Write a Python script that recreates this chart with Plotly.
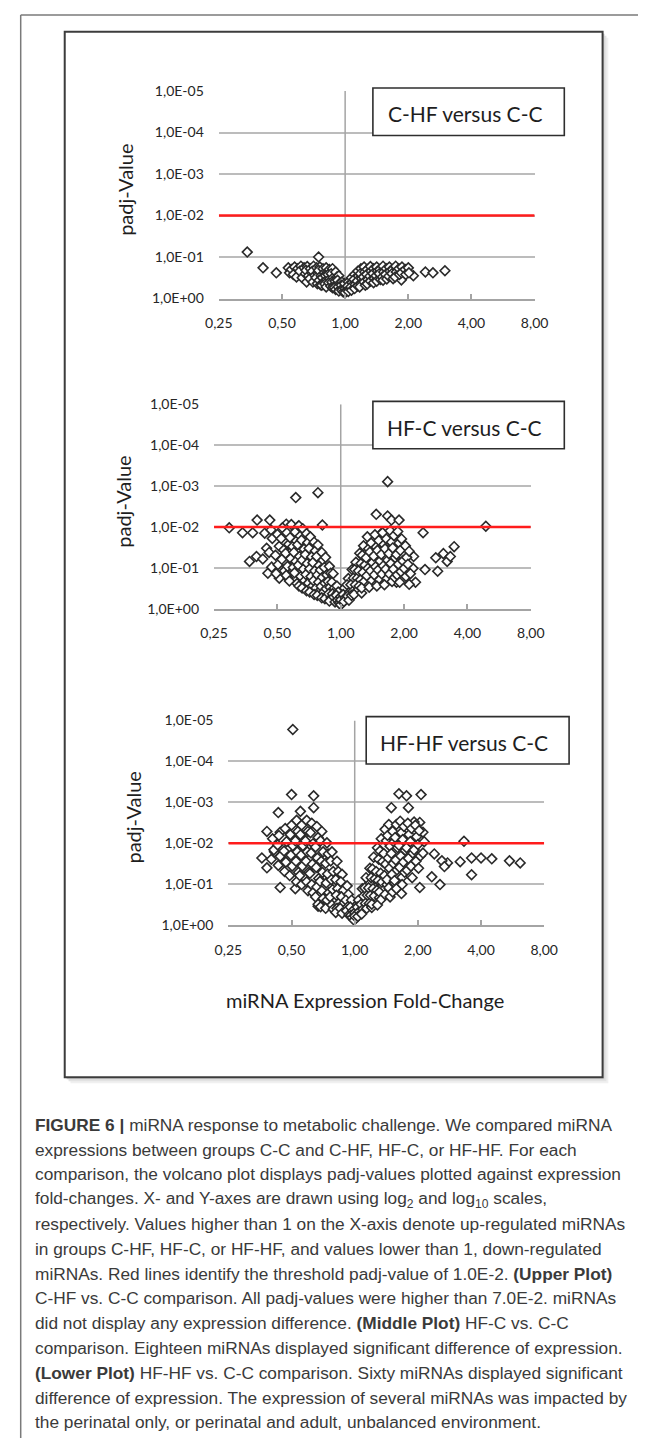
import math
import plotly.graph_objects as go

# ---------------- data ----------------
# x: log2 of expression fold-change, y: -log10 of padj-value
# Upper plot: C-HF versus C-C
chf_log2fc = [
    -1.55, -0.42, -1.30, -1.09, 1.27, 1.39, 1.58, 1.08, 0.89,
    -0.90, -0.88, -0.85, -0.80, -0.82, -0.75, -0.77,
    -0.70, -0.72, -0.68, -0.65, -0.63,
    -0.60, -0.62, -0.58, -0.61, -0.55, -0.53, -0.56,
    -0.50, -0.52, -0.48, -0.51, -0.45, -0.43, -0.46, -0.44,
    -0.40, -0.42, -0.38, -0.41, -0.39, -0.35, -0.33, -0.36, -0.34, -0.37,
    -0.30, -0.28, -0.31, -0.29, -0.32, -0.30, -0.25, -0.27, -0.24, -0.26, -0.23,
    -0.20, -0.22, -0.19, -0.21, -0.18, -0.20, -0.15, -0.13, -0.16, -0.14, -0.17, -0.15,
    -0.10, -0.12, -0.09, -0.11, -0.08, -0.10, -0.05, -0.06, -0.04, -0.05, -0.03,
    0.00, 0.01, 0.00, -0.01,
    0.05, 0.04, 0.06, 0.05, 0.10, 0.11, 0.09, 0.10,
    0.15, 0.14, 0.16, 0.15, 0.20, 0.21, 0.19, 0.20,
    0.25, 0.24, 0.26, 0.25, 0.23, 0.30, 0.31, 0.29, 0.30, 0.32,
    0.35, 0.34, 0.36, 0.35, 0.40, 0.41, 0.39, 0.40,
    0.45, 0.44, 0.46, 0.45, 0.50, 0.51, 0.49, 0.50,
    0.55, 0.54, 0.56, 0.60, 0.61, 0.59, 0.60,
    0.65, 0.64, 0.66, 0.70, 0.71, 0.69, 0.75, 0.74, 0.76,
    0.80, 0.81, 0.79, 0.85, 0.86, 0.90, 0.89, 0.95, 0.96, 1.00, 1.01,
]
chf_mlog10p = [
    1.12, 1.00, 0.74, 0.62, 0.64, 0.62, 0.67, 0.55, 0.45,
    0.74, 0.62, 0.70, 0.76, 0.58, 0.72, 0.52,
    0.78, 0.66, 0.50, 0.74, 0.60,
    0.77, 0.68, 0.55, 0.40, 0.72, 0.62, 0.48,
    0.78, 0.66, 0.56, 0.40, 0.74, 0.60, 0.50, 0.36,
    0.76, 0.68, 0.55, 0.44, 0.33, 0.72, 0.62, 0.50, 0.40, 0.32,
    0.74, 0.64, 0.55, 0.45, 0.35, 0.28, 0.70, 0.58, 0.48, 0.38, 0.30,
    0.72, 0.60, 0.50, 0.40, 0.32, 0.26, 0.64, 0.52, 0.42, 0.34, 0.26, 0.22,
    0.55, 0.44, 0.36, 0.28, 0.22, 0.18, 0.40, 0.32, 0.25, 0.20, 0.16,
    0.24, 0.18, 0.14, 0.36,
    0.40, 0.30, 0.22, 0.17, 0.50, 0.38, 0.28, 0.20,
    0.58, 0.46, 0.34, 0.24, 0.66, 0.54, 0.42, 0.30,
    0.72, 0.60, 0.48, 0.36, 0.28, 0.76, 0.64, 0.52, 0.40, 0.32,
    0.70, 0.58, 0.46, 0.35, 0.77, 0.66, 0.54, 0.42,
    0.72, 0.60, 0.48, 0.38, 0.76, 0.66, 0.55, 0.42,
    0.70, 0.60, 0.46, 0.78, 0.64, 0.52, 0.44,
    0.72, 0.58, 0.47, 0.76, 0.66, 0.54, 0.70, 0.60, 0.48,
    0.78, 0.64, 0.52, 0.72, 0.58, 0.76, 0.62, 0.70, 0.58, 0.74, 0.62,
]

# Middle plot: HF-C versus C-C
hfc_log2fc = [
    0.74, -0.71, -0.36, 0.56, 0.74, 0.80, 0.92, 2.29, -1.76, -1.55, -1.39, -1.32,
    -1.12, -0.86, -0.67, -0.29, 1.30, 0.65, -1.44, -1.33, -1.15, -0.97, -0.83, -0.52,
    1.15, 1.14, 1.18, 1.08, 0.88, 1.33, 1.53, 1.50, 1.62, 1.68, 1.73, 1.79,
    -1.20, -1.17, -1.23,
    -1.10, -1.08, -1.13, -1.09,
    -1.00, -0.97, -1.03, -0.99, -1.02,
    -0.92, -0.94, -0.90, -0.93, -0.89,
    -0.85, -0.82, -0.87, -0.84, -0.86,
    -0.78, -0.80, -0.76, -0.79, -0.75, -0.81,
    -0.72, -0.70, -0.74, -0.71, -0.73, -0.69,
    -0.66, -0.64, -0.68, -0.65, -0.67, -0.63, -0.66,
    -0.60, -0.62, -0.58, -0.61, -0.59, -0.57, -0.61,
    -0.54, -0.52, -0.56, -0.53, -0.55, -0.51, -0.54,
    -0.48, -0.50, -0.46, -0.49, -0.47, -0.45, -0.49,
    -0.42, -0.40, -0.44, -0.41, -0.43, -0.39, -0.42,
    -0.36, -0.38, -0.34, -0.37, -0.35, -0.33, -0.37,
    -0.30, -0.28, -0.32, -0.29, -0.31, -0.27, -0.30,
    -0.24, -0.26, -0.22, -0.25, -0.23, -0.21, -0.25,
    -0.18, -0.16, -0.20, -0.17, -0.19, -0.15, -0.18,
    -0.12, -0.14, -0.10, -0.13, -0.11, -0.09,
    -0.06, -0.04, -0.07, -0.05, -0.03,
    0.00, -0.01, 0.01, 0.00, 0.00,
    0.06, 0.04, 0.07, 0.05,
    0.12, 0.10, 0.14, 0.11, 0.13,
    0.18, 0.20, 0.16, 0.19, 0.17,
    0.24, 0.22, 0.26, 0.23, 0.25, 0.21,
    0.30, 0.32, 0.28, 0.31, 0.29, 0.33,
    0.36, 0.34, 0.38, 0.35, 0.37, 0.33,
    0.42, 0.44, 0.40, 0.43, 0.41, 0.45,
    0.48, 0.46, 0.50, 0.47, 0.49, 0.45,
    0.54, 0.56, 0.52, 0.55, 0.53, 0.57,
    0.60, 0.58, 0.62, 0.59, 0.61, 0.57,
    0.66, 0.68, 0.64, 0.67, 0.65, 0.69,
    0.72, 0.70, 0.74, 0.71, 0.73, 0.69,
    0.78, 0.80, 0.76, 0.79, 0.77, 0.81,
    0.84, 0.82, 0.86, 0.83, 0.85,
    0.90, 0.92, 0.88, 0.91, 0.89, 0.93,
    0.96, 0.94, 0.98, 0.95,
    1.02, 1.04, 1.00, 1.03,
    1.08, 1.06, 1.10,
]
hfc_mlog10p = [
    3.11, 2.72, 2.84, 2.31, 2.27, 2.17, 2.17, 2.02, 1.98, 1.86, 1.86, 2.17,
    2.17, 2.07, 2.02, 2.05, 1.86, 1.86, 1.16, 1.28, 0.87, 0.75, 0.75, 0.53,
    1.28, 0.99, 0.65, 0.60, 0.65, 0.96, 0.92, 1.25, 1.35, 1.16, 1.28, 1.52,
    1.85, 1.48, 1.22,
    1.93, 1.72, 1.38, 1.02,
    1.82, 1.53, 1.31, 1.08, 0.86,
    1.98, 1.72, 1.44, 1.21, 0.93,
    1.86, 1.58, 1.36, 1.04, 0.82,
    2.06, 1.74, 1.52, 1.23, 1.01, 0.68,
    1.88, 1.66, 1.38, 1.16, 0.88, 0.62,
    2.03, 1.78, 1.57, 1.28, 1.07, 0.79, 0.56,
    1.96, 1.68, 1.46, 1.19, 0.97, 0.69, 0.51,
    1.84, 1.62, 1.33, 1.11, 0.84, 0.63, 0.44,
    1.76, 1.48, 1.27, 0.98, 0.79, 0.55, 0.41,
    1.63, 1.42, 1.13, 0.93, 0.69, 0.51, 0.35,
    1.56, 1.28, 1.06, 0.83, 0.65, 0.44, 0.33,
    1.38, 1.19, 0.95, 0.77, 0.55, 0.41, 0.27,
    1.26, 1.01, 0.83, 0.63, 0.49, 0.33, 0.25,
    1.04, 0.87, 0.67, 0.53, 0.37, 0.27, 0.19,
    0.86, 0.65, 0.51, 0.37, 0.29, 0.17,
    0.56, 0.41, 0.33, 0.21, 0.15,
    0.30, 0.16, 0.12, 0.10, 0.22,
    0.51, 0.35, 0.27, 0.18,
    0.74, 0.59, 0.41, 0.31, 0.21,
    0.96, 0.75, 0.59, 0.43, 0.33,
    1.14, 0.96, 0.75, 0.59, 0.43, 0.35,
    1.36, 1.11, 0.93, 0.71, 0.56, 0.39,
    1.54, 1.31, 1.07, 0.89, 0.67, 0.51,
    1.76, 1.47, 1.25, 0.99, 0.81, 0.59,
    1.61, 1.39, 1.13, 0.93, 0.69, 0.53,
    1.81, 1.51, 1.29, 1.03, 0.83, 0.61,
    1.67, 1.43, 1.17, 0.95, 0.71, 0.56,
    1.86, 1.57, 1.33, 1.05, 0.85, 0.63,
    1.71, 1.47, 1.19, 0.97, 0.74, 0.59,
    1.91, 1.63, 1.35, 1.11, 0.85, 0.67,
    1.79, 1.49, 1.25, 0.97, 0.77,
    1.89, 1.61, 1.33, 1.09, 0.83, 0.65,
    1.71, 1.43, 1.17, 0.91,
    1.54, 1.26, 0.99, 0.79,
    1.41, 1.09, 0.86,
]

# Lower plot: HF-HF versus C-C
hfhf_log2fc = [
    -0.98, -1.00, -0.65, -0.65, -0.86, -1.21, -0.89, -1.39, -1.18, -1.47,
    -1.39, -1.27, -1.11, -1.18, -0.94, -0.58, 0.70, 0.82, 1.05, 0.58,
    0.85, 1.73, 1.67, 1.85, 2.00, 2.17, 2.45, 2.62, 1.85, 1.47,
    1.38, 1.35, 1.22, 1.03, 1.42, 0.74, 1.26, 1.08, 1.03, 0.94,
    -1.30, -1.28, -1.32,
    -1.20, -1.22, -1.18, -1.21,
    -1.10, -1.08, -1.12, -1.09, -1.11,
    -1.00, -1.02, -0.98, -1.01, -0.99, -1.03,
    -0.92, -0.90, -0.94, -0.91, -0.93, -0.89, -0.92,
    -0.84, -0.86, -0.82, -0.85, -0.83, -0.87, -0.84,
    -0.76, -0.74, -0.78, -0.75, -0.77, -0.73, -0.76, -0.74,
    -0.68, -0.70, -0.66, -0.69, -0.67, -0.71, -0.68, -0.66,
    -0.60, -0.58, -0.62, -0.59, -0.61, -0.57, -0.60, -0.62, -0.58,
    -0.52, -0.54, -0.50, -0.53, -0.51, -0.55, -0.52, -0.50, -0.54,
    -0.44, -0.42, -0.46, -0.43, -0.45, -0.41, -0.44, -0.46,
    -0.36, -0.38, -0.34, -0.37, -0.35, -0.39, -0.36, -0.34,
    -0.28, -0.26, -0.30, -0.27, -0.29, -0.25, -0.28, -0.30,
    -0.20, -0.22, -0.18, -0.21, -0.19, -0.23, -0.20,
    -0.12, -0.10, -0.14, -0.11, -0.13, -0.09,
    -0.05, -0.07, -0.03, -0.06, -0.04,
    0.00, 0.01, -0.01, 0.00,
    0.06, 0.04, 0.07, 0.05,
    0.12, 0.14, 0.10, 0.13, 0.11,
    0.18, 0.16, 0.20, 0.17, 0.19,
    0.24, 0.26, 0.22, 0.25, 0.23, 0.27,
    0.30, 0.28, 0.32, 0.29, 0.31, 0.27,
    0.36, 0.38, 0.34, 0.37, 0.35, 0.39, 0.36,
    0.42, 0.40, 0.44, 0.41, 0.43, 0.39, 0.42,
    0.48, 0.50, 0.46, 0.49, 0.47, 0.51, 0.48,
    0.54, 0.52, 0.56, 0.53, 0.55, 0.51, 0.54, 0.56,
    0.60, 0.62, 0.58, 0.61, 0.59, 0.63, 0.60,
    0.66, 0.64, 0.68, 0.65, 0.67, 0.63, 0.66,
    0.72, 0.74, 0.70, 0.73, 0.71, 0.75,
    0.78, 0.76, 0.80, 0.77, 0.79, 0.75,
    0.84, 0.86, 0.82, 0.85, 0.83,
    0.90, 0.88, 0.92, 0.89, 0.91,
    0.96, 0.98, 0.94, 0.97,
    1.02, 1.00, 1.04, 1.01,
    1.10, 1.08,
]
hfhf_mlog10p = [
    4.78, 3.19, 3.16, 2.87, 2.78, 2.75, 2.51, 2.29, 2.27, 1.64,
    1.40, 1.79, 1.55, 0.92, 0.89, 0.46, 3.21, 3.16, 3.19, 2.87,
    2.87, 2.05, 1.55, 1.64, 1.64, 1.62, 1.57, 1.52, 1.23, 1.52,
    1.57, 0.99, 1.18, 0.92, 1.43, 0.77, 1.74, 2.27, 2.51, 2.52,
    2.11, 1.84, 1.61,
    2.19, 1.96, 1.68, 1.46,
    2.36, 2.04, 1.81, 1.54, 1.31,
    2.44, 2.21, 1.94, 1.71, 1.44, 1.21,
    2.56, 2.29, 2.06, 1.79, 1.56, 1.29, 1.06,
    2.44, 2.21, 1.94, 1.71, 1.44, 1.21, 0.99,
    2.56, 2.29, 2.06, 1.79, 1.56, 1.29, 1.06, 0.84,
    2.49, 2.26, 1.99, 1.76, 1.49, 1.26, 0.99, 0.79,
    2.41, 2.14, 1.91, 1.64, 1.41, 1.14, 0.93, 0.69, 0.51,
    2.29, 2.06, 1.79, 1.56, 1.29, 1.07, 0.84, 0.65, 0.45,
    2.01, 1.74, 1.51, 1.25, 1.03, 0.79, 0.61, 0.41,
    1.79, 1.57, 1.31, 1.11, 0.87, 0.69, 0.49, 0.39,
    1.56, 1.31, 1.11, 0.89, 0.73, 0.54, 0.41, 0.31,
    1.24, 1.06, 0.85, 0.69, 0.51, 0.41, 0.29,
    0.96, 0.75, 0.61, 0.45, 0.35, 0.25,
    0.61, 0.44, 0.35, 0.24, 0.18,
    0.30, 0.16, 0.12, 0.22,
    0.61, 0.44, 0.33, 0.21,
    0.89, 0.71, 0.51, 0.39, 0.27,
    1.16, 0.91, 0.73, 0.53, 0.41,
    1.39, 1.16, 0.91, 0.73, 0.53, 0.43,
    1.66, 1.37, 1.13, 0.89, 0.71, 0.51,
    1.89, 1.61, 1.31, 1.09, 0.85, 0.67, 0.49,
    2.11, 1.81, 1.55, 1.27, 1.05, 0.81, 0.63,
    2.34, 2.06, 1.75, 1.49, 1.21, 0.99, 0.75,
    2.46, 2.19, 1.93, 1.64, 1.39, 1.11, 0.91, 0.69,
    2.29, 2.03, 1.75, 1.51, 1.24, 1.03, 0.81,
    2.46, 2.14, 1.89, 1.59, 1.35, 1.09, 0.89,
    2.54, 2.26, 1.95, 1.69, 1.41, 1.17,
    2.41, 2.09, 1.83, 1.54, 1.29, 0.99,
    2.49, 2.21, 1.89, 1.63, 1.34,
    2.36, 2.04, 1.76, 1.44, 1.16,
    2.44, 2.16, 1.84, 1.56,
    2.31, 1.97, 1.69, 1.39,
    2.04, 1.76,
]

panel_titles = ["C-HF versus C-C", "HF-C versus C-C", "HF-HF versus C-C"]
threshold_padj = 1.0e-2
x_tick_vals = [0.25, 0.5, 1, 2, 4, 8]
x_tick_text = ["0,25", "0,50", "1,00", "2,00", "4,00", "8,00"]
y_tick_vals = [1e-5, 1e-4, 1e-3, 1e-2, 1e-1, 1]
y_tick_text = ["1,0E-05", "1,0E-04", "1,0E-03", "1,0E-02", "1,0E-01", "1,0E+00"]
y_title = "padj-Value"
x_title = "miRNA Expression Fold-Change"

caption_lines = [
    "<b>FIGURE 6 |</b> miRNA response to metabolic challenge. We compared miRNA",
    "expressions between groups C-C and C-HF, HF-C, or HF-HF. For each",
    "comparison, the volcano plot displays padj-values plotted against expression",
    "fold-changes. X- and Y-axes are drawn using log<sub>2</sub> and log<sub>10</sub> scales,",
    "respectively. Values higher than 1 on the X-axis denote up-regulated miRNAs",
    "in groups C-HF, HF-C, or HF-HF, and values lower than 1, down-regulated",
    "miRNAs. Red lines identify the threshold padj-value of 1.0E-2. <b>(Upper Plot)</b>",
    "C-HF vs. C-C comparison. All padj-values were higher than 7.0E-2. miRNAs",
    "did not display any expression difference. <b>(Middle Plot)</b> HF-C vs. C-C",
    "comparison. Eighteen miRNAs displayed significant difference of expression.",
    "<b>(Lower Plot)</b> HF-HF vs. C-C comparison. Sixty miRNAs displayed significant",
    "difference of expression. The expression of several miRNAs was impacted by",
    "the perinatal only, or perinatal and adult, unbalanced environment.",
]

# ---------------- layout helpers (pixels -> paper) ----------------
W, H = 652, 1446


def px(x):
    return x / W


def py(y):
    return 1 - y / H


panels = [
    dict(x0=214, x1=544, y0=83, y1=293, box=(375, 80, 575, 128), ytl=116),
    dict(x0=209, x1=540, y0=400, y1=607, box=(375, 397, 575, 445), ytl=114),
    dict(x0=224, x1=554, y0=720, y1=927, box=(368, 716, 580, 764), ytl=124),
]
series = [
    (chf_log2fc, chf_mlog10p),
    (hfc_log2fc, hfc_mlog10p),
    (hfhf_log2fc, hfhf_mlog10p),
]

TICK_FONT = dict(family="Lato", size=14, color="#262626")
GRID = "#bcbcbc"
AXIS = "#a4a4a4"

fig = go.Figure()
shapes = []
annotations = []

# page frame and chart box with soft shadow
shapes.append(dict(type="line", xref="paper", yref="paper", x0=px(7), x1=px(7), y0=py(6), y1=0,
                   line=dict(color="#7a7a7a", width=1.5), layer="below"))
shapes.append(dict(type="line", xref="paper", yref="paper", x0=px(7), x1=1, y0=py(6), y1=py(6),
                   line=dict(color="#7a7a7a", width=1.5), layer="below"))
for off, col in [(6, "#f0f0f0"), (4, "#e2e2e2"), (2, "#cfcfcf")]:
    shapes.append(dict(type="rect", xref="paper", yref="paper", x0=px(53 + off), x1=px(615 + off),
                       y0=py(1081 + off), y1=py(23 + off), fillcolor=col, line=dict(width=0), layer="below"))
shapes.append(dict(type="rect", xref="paper", yref="paper", x0=px(53), x1=px(615),
                   y0=py(1081), y1=py(23), fillcolor="white", line=dict(color="#3c3c3c", width=2),
                   layer="below"))

for i, (p, (lfc, nlp)) in enumerate(zip(panels, series)):
    sfx = "" if i == 0 else str(i + 1)
    xa, ya = "x" + sfx, "y" + sfx
    fc = [2 ** v for v in lfc]
    padj = [10 ** (-v) for v in nlp]

    # vertical axis line at fold-change 1
    fig.add_trace(go.Scatter(x=[1, 1], y=[1, 1e-5], mode="lines", line=dict(color=AXIS, width=1.5),
                             xaxis=xa, yaxis=ya, hoverinfo="skip", showlegend=False))
    fig.add_trace(go.Scatter(x=fc, y=padj, mode="markers", xaxis=xa, yaxis=ya, showlegend=False,
                             cliponaxis=False,
                             marker=dict(symbol="diamond", size=7.5, color="white",
                                         line=dict(color="#2a2a2a", width=1.6))))
    fig.add_trace(go.Scatter(x=[0.25, 8], y=[threshold_padj, threshold_padj], mode="lines",
                             line=dict(color="#ff1c1c", width=2.6), xaxis=xa, yaxis=ya,
                             hoverinfo="skip", showlegend=False))

    fig.layout["xaxis" + sfx] = dict(
        domain=[px(p["x0"]), px(p["x1"])], anchor=ya, type="log",
        range=[math.log10(0.25), math.log10(8)],
        tickmode="array", tickvals=x_tick_vals, ticktext=x_tick_text,
        ticks="inside", ticklen=5, tickwidth=1.5, tickcolor=AXIS,
        showline=True, linecolor=AXIS, linewidth=1.5, showgrid=False, zeroline=False,
        tickfont=TICK_FONT, ticklabelstandoff=11, fixedrange=True,
    )
    fig.layout["yaxis" + sfx] = dict(
        domain=[py(p["y1"]), py(p["y0"])], anchor=xa, type="log", range=[0, -5],
        tickmode="array", tickvals=y_tick_vals, ticktext=y_tick_text,
        showgrid=True, gridcolor=GRID, gridwidth=1.5, showline=False, zeroline=False,
        ticks="", tickfont=TICK_FONT, ticklabelstandoff=14, fixedrange=True,
    )

    # label box
    bx0, by0, bx1, by1 = p["box"]
    shapes.append(dict(type="rect", xref="paper", yref="paper", x0=px(bx0), x1=px(bx1),
                       y0=py(by1), y1=py(by0), fillcolor="white",
                       line=dict(color="#2e2e2e", width=1.6), layer="above"))
    annotations.append(dict(xref="paper", yref="paper", x=px((bx0 + bx1) / 2 - 4),
                            y=py((by0 + by1) / 2 + 2),
                            text=panel_titles[i], showarrow=False, xanchor="center", yanchor="middle",
                            font=dict(family="Lato", size=21, color="#1e1e1e")))
    # y-axis title
    annotations.append(dict(xref="paper", yref="paper", x=px(p["ytl"]), y=py((p["y0"] + p["y1"]) / 2 - 5),
                            text=y_title, showarrow=False, textangle=-90, xanchor="center",
                            yanchor="middle", font=dict(family="Lato", size=20, color="#1e1e1e")))

annotations.append(dict(xref="paper", yref="paper", x=px(367), y=py(1003), text=x_title,
                        showarrow=False, xanchor="center", yanchor="middle",
                        font=dict(family="Lato", size=20, color="#1e1e1e")))

for k, line in enumerate(caption_lines):
    annotations.append(dict(xref="paper", yref="paper", x=px(20), y=py(1129 + 25.1 * k), text=line,
                            showarrow=False, xanchor="left", yanchor="middle", align="left",
                            font=dict(family="Liberation Sans", size=17.3, color="#3a3a3a")))

fig.update_layout(
    width=W, height=H, margin=dict(l=0, r=0, t=0, b=0),
    paper_bgcolor="white", plot_bgcolor="rgba(0,0,0,0)",
    shapes=shapes, annotations=annotations, showlegend=False,
)

fig.write_html("out.html")
